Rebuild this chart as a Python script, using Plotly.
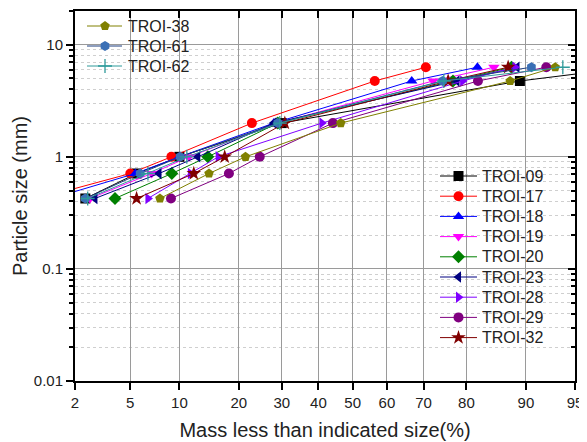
import math
from statistics import NormalDist
import plotly.graph_objects as go

# ---------------- data ----------------
sizes = [0.425, 0.71, 1.0, 2.0, 4.75, 6.3]   # sieve size (mm)

troi_09 = [2.4, 5.5, 10.0, 30.0, 89.2, 98.0]
troi_17 = [1.0, 5.0, 9.0, 22.8, 56.5, 70.6]
troi_18 = [1.3, 5.4, 10.0, 28.0, 66.9, 82.2]
troi_19 = [2.6, 6.85, 11.3, 29.0, 72.4, 85.2]
troi_20 = [3.94, 9.05, 14.2, 29.0, 77.1, 88.0]
troi_23 = [2.83, 7.6, 12.6, 28.0, 78.0, 88.8]
troi_28 = [6.5, 11.5, 16.0, 41.0, 79.2, 88.5]
troi_29 = [8.95, 18.0, 24.6, 44.2, 82.3, 92.4]
troi_32 = [5.5, 12.0, 17.2, 30.8, 76.0, 87.5]
troi_38 = [7.7, 14.4, 21.4, 46.5, 87.8, 93.3]
troi_61 = [2.4, 5.8, 10.1, 29.0, 74.7, 90.7]
troi_62 = [2.5, 6.5, 11.0, 29.5, 75.0, 94.0]

x_ticks = [2, 5, 10, 20, 30, 40, 50, 60, 70, 80, 90, 95]
y_ticks = [0.01, 0.1, 1, 10]
y_tick_text = ["0.01", "0.1", "1", "10"]

nd = NormalDist()
def probit(p):
    return nd.inv_cdf(p / 100.0)

series = [
    ("TROI-09", troi_09, "#000000", "square", 1),
    ("TROI-17", troi_17, "#ff0000", "circle", 1),
    ("TROI-18", troi_18, "#0000ff", "triangle-up", 1),
    ("TROI-19", troi_19, "#ff00ff", "triangle-down", 1),
    ("TROI-20", troi_20, "#008000", "diamond", 1),
    ("TROI-23", troi_23, "#000080", "triangle-left", 1),
    ("TROI-28", troi_28, "#7f00ff", "triangle-right", 1),
    ("TROI-29", troi_29, "#800080", "circle", 1),
    ("TROI-32", troi_32, "#800000", "star", 1),
    ("TROI-38", troi_38, "#808000", "pentagon", 2),
    ("TROI-61", troi_61, "#3a6fb5", "hexagon", 2),
    ("TROI-62", troi_62, "#2e9a9a", "cross-thin", 2),
]

line_cols = {"TROI-61": "#1f3f7f", "TROI-62": "#2e9a9a"}

def marker_for(sym, col):
    mk = dict(symbol=sym, size=10, color=col)
    if sym == "cross-thin":
        mk = dict(symbol=sym, size=10, color=col, line=dict(color=col, width=1.3))
    elif sym == "star":
        mk["size"] = 11
    return mk

fig = go.Figure()
for name, vals, col, sym, grp in series:
    fig.add_trace(go.Scatter(
        x=[probit(v) for v in vals], y=sizes, name=name,
        mode="lines+markers",
        line=dict(color=line_cols.get(name, col), width=1),
        marker=marker_for(sym, col), showlegend=False,
    ))

# dummy trace for mirrored (inside) ticks on top/right
fig.add_trace(go.Scatter(x=[None], y=[None], xaxis="x2", yaxis="y2",
                         showlegend=False, hoverinfo="skip"))

# ---- legend boxes drawn in plot-fraction coordinates (x3/y3 = 0..1) ----
PW, PH, PL, PB = 500.0, 370.0, 75.0, 381.0
def fx(px): return (px - PL) / PW
def fy(py): return (PB - py) / PH

legend_geo = {
    1: dict(x0=440, x1=477, xm=458.5, xt=480, y0=176, dy=20.2),
    2: dict(x0=87, x1=122, xm=105, xt=126, y0=26, dy=20.0),
}
annotations = []
counters = {1: 0, 2: 0}
for name, vals, col, sym, grp in series:
    g = legend_geo[grp]
    i = counters[grp]; counters[grp] += 1
    yc = g["y0"] + g["dy"] * i
    fig.add_trace(go.Scatter(
        x=[fx(g["x0"]), fx(g["x1"])], y=[fy(yc), fy(yc)], mode="lines",
        line=dict(color=line_cols.get(name, col), width=1),
        xaxis="x3", yaxis="y3", showlegend=False, hoverinfo="skip", cliponaxis=False,
    ))
    fig.add_trace(go.Scatter(
        x=[fx(g["xm"])], y=[fy(yc)], mode="markers", marker=marker_for(sym, col),
        xaxis="x3", yaxis="y3", showlegend=False, hoverinfo="skip", cliponaxis=False,
    ))
    annotations.append(dict(
        x=fx(g["xt"]), y=fy(yc), xref="paper", yref="paper", text=name,
        showarrow=False, xanchor="left", yanchor="middle",
        font=dict(size=16, color="#222"),
    ))

xr = [probit(2), probit(95)]
yr = [-2, math.log10(20)]
minor_vals = [m * 10 ** e for e in range(-2, 2) for m in range(2, 10)]

font_main = "Liberation Sans, Arial, sans-serif"

# the page adds an 8px body margin, so the figure is sized/offset for it
fig.update_layout(
    width=579, height=434,
    margin=dict(l=67, r=12, t=3, b=61, autoexpand=False),
    paper_bgcolor="white", plot_bgcolor="white",
    font=dict(family=font_main, size=15, color="#222"),
    showlegend=False,
    annotations=annotations,
    xaxis=dict(
        range=xr, tickmode="array", automargin=False,
        tickvals=[probit(v) for v in x_ticks], ticktext=[str(v) for v in x_ticks],
        ticks="outside", ticklen=7, tickwidth=1.5, tickcolor="black",
        showline=True, linewidth=2, linecolor="black",
        showgrid=True, gridcolor="#9a9a9a", gridwidth=1, zeroline=False,
        title=dict(text="Mass less than indicated size(%)", font=dict(size=20), standoff=13),
    ),
    yaxis=dict(
        type="log", range=yr, tickmode="array", automargin=False,
        tickvals=y_ticks, ticktext=y_tick_text,
        ticks="outside", ticklen=7, tickwidth=1.5, tickcolor="black",
        showline=True, linewidth=2, linecolor="black",
        showgrid=True, gridcolor="#9a9a9a", gridwidth=1, zeroline=False,
        minor=dict(tickmode="array", tickvals=minor_vals, ticks="outside",
                   ticklen=4, tickcolor="black", showgrid=True,
                   gridcolor="#cfcfcf", griddash="dot", gridwidth=1),
        title=dict(text="Particle size (mm)", font=dict(size=20), standoff=1),
    ),
    xaxis2=dict(
        overlaying="x", side="top", range=xr, tickmode="array", automargin=False,
        tickvals=[probit(v) for v in x_ticks], showticklabels=False,
        ticks="inside", ticklen=7, tickwidth=1.5, tickcolor="black",
        showline=True, linewidth=2, linecolor="black",
        showgrid=False, zeroline=False,
    ),
    yaxis2=dict(
        overlaying="y", side="right", type="log", range=yr, tickmode="array",
        automargin=False,
        tickvals=y_ticks, showticklabels=False,
        ticks="inside", ticklen=7, tickwidth=1.5, tickcolor="black",
        showline=True, linewidth=2, linecolor="black",
        showgrid=False, zeroline=False,
        minor=dict(tickmode="array", tickvals=minor_vals, ticks="inside",
                   ticklen=4, tickcolor="black", showgrid=False),
    ),
    xaxis3=dict(overlaying="x", range=[0, 1], visible=False, automargin=False),
    yaxis3=dict(overlaying="y", range=[0, 1], visible=False, automargin=False),
)

fig.write_html("out.html")
